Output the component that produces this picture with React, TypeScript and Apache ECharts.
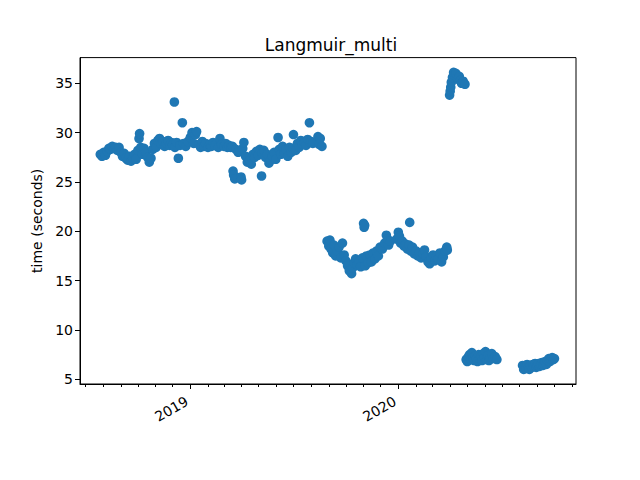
import React, { useEffect, useRef } from "react";
import * as echarts from "echarts";

// [date, time in seconds]
const run2018to2019: [string, number][] = [
  ["2018-07-27", 27.8], ["2018-07-30", 27.6], ["2018-08-02", 28.0], ["2018-08-05", 27.7], ["2018-08-08", 28.1],
  ["2018-08-11", 28.4], ["2018-08-14", 28.3], ["2018-08-17", 28.6], ["2018-08-20", 28.4], ["2018-08-23", 28.5],
  ["2018-08-26", 28.2], ["2018-08-29", 28.5], ["2018-09-01", 28.0], ["2018-09-04", 27.6], ["2018-09-07", 27.9],
  ["2018-09-10", 27.4], ["2018-09-13", 27.2], ["2018-09-16", 27.6], ["2018-09-19", 27.1], ["2018-09-22", 27.4],
  ["2018-09-25", 27.8], ["2018-09-28", 27.3], ["2018-10-01", 28.2], ["2018-10-03", 29.4], ["2018-10-04", 29.9],
  ["2018-10-06", 28.5], ["2018-10-09", 27.8], ["2018-10-12", 28.4], ["2018-10-15", 28.0], ["2018-10-18", 27.5],
  ["2018-10-21", 27.0], ["2018-10-24", 27.4], ["2018-10-27", 28.3], ["2018-10-30", 28.9], ["2018-11-02", 28.5],
  ["2018-11-05", 29.2], ["2018-11-08", 29.4], ["2018-11-11", 28.8], ["2018-11-14", 29.1], ["2018-11-17", 28.6],
  ["2018-11-20", 28.9], ["2018-11-23", 29.2], ["2018-11-26", 28.7], ["2018-11-29", 29.0], ["2018-12-01", 28.8],
  ["2018-12-04", 33.1], ["2018-12-05", 28.5], ["2018-12-08", 29.0], ["2018-12-11", 27.4], ["2018-12-14", 28.7],
  ["2018-12-18", 31.0], ["2018-12-20", 28.9], ["2018-12-24", 28.6], ["2018-12-28", 29.1], ["2019-01-01", 29.5],
  ["2019-01-04", 30.0], ["2019-01-07", 28.9], ["2019-01-10", 29.8], ["2019-01-12", 30.1], ["2019-01-16", 28.8],
  ["2019-01-19", 28.5], ["2019-01-22", 29.1], ["2019-01-25", 28.6], ["2019-01-28", 28.9], ["2019-02-01", 28.5],
  ["2019-02-04", 28.8], ["2019-02-07", 28.6], ["2019-02-10", 29.0], ["2019-02-13", 28.7], ["2019-02-16", 28.9],
  ["2019-02-19", 28.5], ["2019-02-22", 29.4], ["2019-02-25", 28.8], ["2019-03-01", 28.6], ["2019-03-04", 28.9],
  ["2019-03-07", 28.5], ["2019-03-10", 28.7], ["2019-03-13", 28.5], ["2019-03-16", 28.6], ["2019-03-17", 26.1],
  ["2019-03-18", 25.7], ["2019-03-20", 25.3], ["2019-03-22", 28.3], ["2019-03-26", 28.0], ["2019-03-31", 25.5],
  ["2019-04-01", 25.2], ["2019-04-03", 28.4], ["2019-04-05", 29.0], ["2019-04-08", 27.6], ["2019-04-11", 27.0],
  ["2019-04-15", 27.2], ["2019-04-18", 26.8], ["2019-04-21", 27.8], ["2019-04-24", 27.5], ["2019-04-27", 28.1],
  ["2019-04-30", 27.7], ["2019-05-03", 28.3], ["2019-05-06", 25.6], ["2019-05-07", 27.9], ["2019-05-10", 28.2],
  ["2019-05-13", 27.5], ["2019-05-16", 27.8], ["2019-05-19", 26.9], ["2019-05-22", 27.2], ["2019-05-25", 27.6],
  ["2019-05-28", 28.0], ["2019-05-31", 27.3], ["2019-06-04", 29.5], ["2019-06-06", 28.3], ["2019-06-09", 27.8],
  ["2019-06-12", 28.6], ["2019-06-15", 27.9], ["2019-06-18", 28.3], ["2019-06-21", 27.6], ["2019-06-24", 28.5],
  ["2019-06-27", 28.0], ["2019-06-30", 28.4], ["2019-07-01", 29.8], ["2019-07-05", 28.2], ["2019-07-08", 28.9],
  ["2019-07-11", 28.5], ["2019-07-14", 29.2], ["2019-07-17", 28.8], ["2019-07-20", 29.0], ["2019-07-23", 28.7],
  ["2019-07-26", 29.3], ["2019-07-29", 31.0], ["2019-07-30", 29.0], ["2019-08-01", 29.1], ["2019-08-04", 28.9],
  ["2019-08-13", 29.6], ["2019-08-15", 28.8], ["2019-08-17", 29.4], ["2019-08-20", 28.6],
];

const runAutumn2019: [string, number][] = [
  ["2019-08-29", 19.0], ["2019-09-01", 18.5], ["2019-09-03", 19.1], ["2019-09-05", 18.2], ["2019-09-08", 17.8],
  ["2019-09-10", 18.6], ["2019-09-13", 17.5], ["2019-09-16", 18.0], ["2019-09-19", 18.4], ["2019-09-22", 17.3],
  ["2019-09-25", 18.8], ["2019-09-28", 17.6], ["2019-10-01", 17.0], ["2019-10-04", 16.5], ["2019-10-07", 16.0],
  ["2019-10-11", 15.7], ["2019-10-13", 16.3], ["2019-10-15", 16.8], ["2019-10-18", 17.2], ["2019-10-21", 16.6],
  ["2019-10-24", 16.9], ["2019-10-27", 16.4], ["2019-10-30", 17.3], ["2019-11-01", 20.8], ["2019-11-02", 20.4],
  ["2019-11-03", 20.6], ["2019-11-04", 16.5], ["2019-11-06", 17.5], ["2019-11-09", 16.8], ["2019-11-12", 17.6],
  ["2019-11-15", 16.9], ["2019-11-18", 17.8], ["2019-11-21", 17.2], ["2019-11-24", 18.0], ["2019-11-27", 17.5],
  ["2019-11-30", 18.4], ["2019-12-04", 18.2], ["2019-12-08", 18.8], ["2019-12-11", 19.6], ["2019-12-13", 19.2],
  ["2019-12-15", 18.6], ["2019-12-18", 19.0],
];

const runWinter2020: [string, number][] = [
  ["2019-12-29", 19.2], ["2020-01-01", 19.9], ["2020-01-03", 19.5], ["2020-01-05", 18.8], ["2020-01-08", 19.0],
  ["2020-01-11", 18.5], ["2020-01-14", 18.7], ["2020-01-17", 18.2], ["2020-01-20", 18.6], ["2020-01-21", 20.9],
  ["2020-01-23", 18.0], ["2020-01-26", 18.4], ["2020-01-29", 17.7], ["2020-02-01", 18.0], ["2020-02-04", 17.5],
  ["2020-02-07", 17.8], ["2020-02-10", 17.3], ["2020-02-13", 17.7], ["2020-02-16", 18.1], ["2020-02-19", 17.4],
  ["2020-02-22", 16.9], ["2020-02-25", 16.7], ["2020-02-28", 17.3], ["2020-03-02", 17.6], ["2020-03-05", 17.0],
  ["2020-03-08", 17.5], ["2020-03-11", 17.2], ["2020-03-14", 17.8], ["2020-03-17", 16.9], ["2020-03-20", 17.4],
  ["2020-03-23", 18.0], ["2020-03-26", 18.4], ["2020-03-27", 18.1],
];

const runApril2020: [string, number][] = [
  ["2020-03-31", 33.8], ["2020-04-01", 34.2], ["2020-04-02", 34.6], ["2020-04-03", 35.1], ["2020-04-05", 35.6],
  ["2020-04-07", 36.1], ["2020-04-09", 35.8], ["2020-04-11", 36.0], ["2020-04-13", 35.6], ["2020-04-15", 35.4],
  ["2020-04-17", 35.7], ["2020-04-19", 35.3], ["2020-04-21", 35.0], ["2020-04-24", 35.2], ["2020-04-27", 34.9],
];

const runSpring2020: [string, number][] = [
  ["2020-04-29", 7.0], ["2020-05-01", 6.8], ["2020-05-03", 7.3], ["2020-05-05", 7.5], ["2020-05-07", 7.0],
  ["2020-05-09", 7.7], ["2020-05-11", 7.2], ["2020-05-13", 6.9], ["2020-05-15", 7.4], ["2020-05-17", 7.1],
  ["2020-05-19", 6.8], ["2020-05-21", 7.5], ["2020-05-23", 7.0], ["2020-05-25", 7.3], ["2020-05-27", 6.9],
  ["2020-05-29", 7.6], ["2020-05-31", 7.2], ["2020-06-02", 7.8], ["2020-06-04", 7.0], ["2020-06-06", 7.4],
  ["2020-06-08", 6.9], ["2020-06-10", 7.2], ["2020-06-13", 7.6], ["2020-06-16", 7.1], ["2020-06-19", 7.3],
  ["2020-06-22", 7.0],
];

const runSummer2020: [string, number][] = [
  ["2020-08-06", 6.4], ["2020-08-08", 6.0], ["2020-08-10", 6.3], ["2020-08-12", 6.1], ["2020-08-14", 6.5],
  ["2020-08-16", 6.2], ["2020-08-18", 6.0], ["2020-08-20", 6.4], ["2020-08-22", 6.2], ["2020-08-24", 6.5],
  ["2020-08-26", 6.3], ["2020-08-28", 6.6], ["2020-08-30", 6.2], ["2020-09-01", 6.4], ["2020-09-03", 6.6],
  ["2020-09-05", 6.3], ["2020-09-07", 6.5], ["2020-09-09", 6.7], ["2020-09-11", 6.4], ["2020-09-13", 6.6],
  ["2020-09-15", 6.8], ["2020-09-17", 6.5], ["2020-09-19", 6.9], ["2020-09-21", 7.1], ["2020-09-23", 6.8],
  ["2020-09-25", 7.0], ["2020-09-27", 7.2], ["2020-09-29", 7.0], ["2020-10-01", 7.1],
];

const yTicks = [5, 10, 15, 20, 25, 30, 35];
const yearTicks = ["2019-01-01", "2020-01-01"];
const monthTicks = [
  "2018-07-01", "2018-08-01", "2018-09-01", "2018-10-01", "2018-11-01", "2018-12-01",
  "2019-02-01", "2019-03-01", "2019-04-01", "2019-05-01", "2019-06-01", "2019-07-01",
  "2019-08-01", "2019-09-01", "2019-10-01", "2019-11-01", "2019-12-01",
  "2020-02-01", "2020-03-01", "2020-04-01", "2020-05-01", "2020-06-01", "2020-07-01",
  "2020-08-01", "2020-09-01", "2020-10-01", "2020-11-01",
];
const xMin = "2018-06-21T10:00:00Z";
const xMax = "2020-11-07T19:00:00Z";
const yMin = 4.52;
const yMax = 37.6;

const ts = (s: string) => Date.parse(s);

export default function App() {
  const ref = useRef<HTMLDivElement>(null);
  useEffect(() => {
    const chart = echarts.init(ref.current!, null, { renderer: "svg" });
    const all = [
      ...run2018to2019, ...runAutumn2019, ...runWinter2020,
      ...runApril2020, ...runSpring2020, ...runSummer2020,
    ];
    const font = "DejaVu Sans";
    chart.setOption({
      animation: false,
      backgroundColor: "#ffffff",
      textStyle: { fontFamily: font },
      title: {
        text: "Langmuir_multi",
        left: 326,
        top: 31,
        textAlign: "center",
        textStyle: { fontSize: 17, fontWeight: "normal", color: "#000", fontFamily: font },
      },
      grid: {
        left: 80, right: 64, top: 57.6, bottom: 96,
        show: true, borderColor: "#000", borderWidth: 1,
        outerBoundsMode: "none",
      },
      xAxis: [
        {
          type: "value",
          min: ts(xMin), max: ts(xMax),
          position: "bottom",
          axisLine: { show: true, lineStyle: { color: "#000", width: 1 } },
          splitLine: { show: false },
          axisTick: { show: true, customValues: yearTicks.map(ts), length: 5, lineStyle: { color: "#000", width: 1 } },
          axisLabel: {
            customValues: yearTicks.map(ts),
            formatter: (v: number) => String(new Date(v).getUTCFullYear()),
            rotate: 30, margin: 14, padding: [0, 4, 0, 0],
            fontSize: 14, color: "#000", fontFamily: font,
          },
        },
        {
          type: "value",
          min: ts(xMin), max: ts(xMax),
          position: "bottom",
          axisLine: { show: false },
          splitLine: { show: false },
          axisLabel: { show: false },
          axisTick: { show: true, customValues: monthTicks.map(ts), length: 3, lineStyle: { color: "#000", width: 1 } },
        },
      ],
      yAxis: {
        type: "value",
        min: yMin, max: yMax,
        name: "time (seconds)",
        nameLocation: "middle",
        nameGap: 32,
        nameTextStyle: { fontSize: 14, color: "#000", fontFamily: font },
        axisLine: { show: true, lineStyle: { color: "#000", width: 1 } },
        axisTick: { show: true, customValues: yTicks, length: 5, lineStyle: { color: "#000", width: 1 } },
        axisLabel: { customValues: yTicks, fontSize: 14, color: "#000", margin: 7, fontFamily: font },
        splitLine: { show: false },
      },
      series: [
        {
          type: "scatter",
          xAxisIndex: 0,
          data: all.map(([d, v]) => [ts(d), v]),
          symbolSize: 9.6,
          itemStyle: { color: "#1f77b4", opacity: 1 },
        },
      ],
    });
    return () => chart.dispose();
  }, []);
  return <div ref={ref} style={{ position: "fixed", left: 0, top: 0, width: 640, height: 480 }} />;
}
